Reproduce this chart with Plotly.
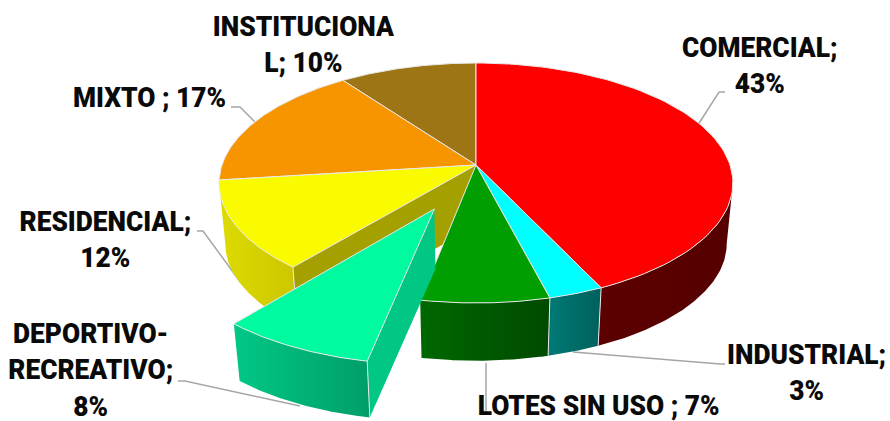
#!/usr/bin/env python3
# -*- coding: utf-8 -*-
import numpy as np
import plotly.graph_objects as go

# data
categorias = ["COMERCIAL", "INDUSTRIAL", "LOTES SIN USO", "DEPORTIVO-RECREATIVO",
              "RESIDENCIAL", "MIXTO", "INSTITUCIONAL"]
valores = [43, 3, 7, 8, 12, 17, 10]
color_tapa = ["#ff0000", "#00ffff", "#009e00", "#00fa9f", "#fbfb00", "#f79500", "#9e7515"]
color_lado = [("#5c0000", "#550000"), ("#007a76", "#00605c"), ("#006800", "#004a00"),
              ("#00c886", "#009e68"), ("#dedb00", "#cbc600"), ("#c07400", "#c07400"),
              ("#7a5a10", "#7a5a10")]
color_radial = {3: "#00c884", 4: "#a3a000"}

etiquetas = ["COMERCIAL;<br>43%", "INDUSTRIAL;<br>3%", "LOTES SIN USO ; 7%",
             "DEPORTIVO-<br>RECREATIVO;<br>8%", "RESIDENCIAL;<br>12%", "MIXTO ; 17%",
             "INSTITUCIONA<br>L; 10%"]
etq_x = [760, 806, 598, 91, 105, 149, 304]
etq_y = [65, 372, 405, 370, 239, 97, 44]

guias = [([725, 719, 696], [92, 92, 128]),
         ([725, 720, 573], [364, 364, 352]),
         ([486, 486], [363, 415]),
         ([178, 185, 300], [381, 381, 406]),
         ([197, 203, 241], [231, 231, 283]),
         ([231, 240, 255], [107, 107, 122])]

# perspective of the disc
CX, CY = 476, 165
A, B, K = 254, 117.3, 0.15
ESCALA_BASE, ALTO = 0.976, 61
EXPLOTA = {3: (-0.155, -0.355)}
# silhouette of the disc side, in percent of the turn
SIL_DER = np.degrees(np.arccos(-K)) / 3.6
SIL_IZQ = 100 - SIL_DER


def proyecta(X, Y, base=False):
    w = 1 + K * Y
    px, py = A * X / w, -B * Y / w
    if base:
        return CX + ESCALA_BASE * px, CY + ALTO + ESCALA_BASE * py
    return CX + px, CY + py


def arco(p0, p1, dx=0, dy=0, base=False):
    t = np.linspace(p0, p1, 90) / 100 * 2 * np.pi
    return proyecta(np.sin(t) + dx, np.cos(t) + dy, base)


def poligono(fig, x, y, color=None, grad=None, borde=1):
    kw = dict(fillcolor=color)
    if grad is not None:
        kw = dict(fillgradient=dict(type="horizontal", start=float(np.min(x)), stop=float(np.max(x)),
                                    colorscale=[[0, grad[0]], [1, grad[1]]]))
    fig.add_trace(go.Scatter(x=list(x) + [x[0]], y=list(y) + [y[0]], mode="lines", fill="toself",
                             line=dict(color="#e8e8e8", width=borde), hoverinfo="skip", showlegend=False, **kw))


def pared(fig, i):
    dx, dy = EXPLOTA.get(i, (0, 0))
    p0 = max(ini[i], SIL_DER) if i == 0 else ini[i]
    p1 = min(fin[i], SIL_IZQ)
    tx, ty = arco(p0, p1, dx, dy)
    bx, by = arco(p0, p1, dx, dy, base=True)
    poligono(fig, np.r_[tx, bx[::-1]], np.r_[ty, by[::-1]], grad=color_lado[i], borde=0)


def radial(fig, i, p):
    dx, dy = EXPLOTA.get(i, (0, 0))
    t = p / 100 * 2 * np.pi
    X = np.array([dx, np.sin(t) + dx])
    Y = np.array([dy, np.cos(t) + dy])
    tx, ty = proyecta(X, Y)
    bx, by = proyecta(X, Y, base=True)
    poligono(fig, np.r_[tx, bx[::-1]], np.r_[ty, by[::-1]], color=color_radial[i], borde=0)


def arista(fig, i, p):
    dx, dy = EXPLOTA.get(i, (0, 0))
    t = p / 100 * 2 * np.pi
    X, Y = np.array([np.sin(t) + dx]), np.array([np.cos(t) + dy])
    tx, ty = proyecta(X, Y)
    bx, by = proyecta(X, Y, base=True)
    fig.add_trace(go.Scatter(x=[tx[0], bx[0]], y=[ty[0], by[0]], mode="lines",
                             line=dict(color="#e8e8e8", width=1), hoverinfo="skip", showlegend=False))


def tapa(fig, i):
    dx, dy = EXPLOTA.get(i, (0, 0))
    ax, ay = arco(ini[i], fin[i], dx, dy)
    cx, cy = proyecta(np.array([dx]), np.array([dy]))
    poligono(fig, np.r_[cx, ax], np.r_[cy, ay], color=color_tapa[i])


fin = np.cumsum(valores)
ini = fin - np.array(valores)

fig = go.Figure()

for gx, gy in guias:
    fig.add_trace(go.Scatter(x=gx, y=gy, mode="lines", line=dict(color="#a6a6a6", width=1.5),
                             hoverinfo="skip", showlegend=False))

# back to front
pared(fig, 4)
radial(fig, 4, fin[3])
arista(fig, 4, fin[3])
for i in [0, 1, 2]:
    pared(fig, i)
arista(fig, 0, fin[0])
arista(fig, 1, fin[1])
for i in [6, 5, 4, 0, 1, 2]:
    tapa(fig, i)
pared(fig, 3)
radial(fig, 3, ini[3])
arista(fig, 3, ini[3])
tapa(fig, 3)

for txt, x, y in zip(etiquetas, etq_x, etq_y):
    fig.add_annotation(x=x, y=y, text=txt, showarrow=False, align="center", xanchor="center", yanchor="middle",
                       font=dict(family="Roboto", size=28, color="#0a0a0a", weight=900))

fig.update_layout(width=890, height=421, margin=dict(l=0, r=0, t=0, b=0),
                  paper_bgcolor="white", plot_bgcolor="white",
                  xaxis=dict(range=[0, 890], visible=False, fixedrange=True),
                  yaxis=dict(range=[421, 0], visible=False, fixedrange=True))

# labels in the reference are a condensed bold face: narrow the Roboto glyphs
angosta = """
document.body.style.margin = '0';
var gd = document.getElementById('{plot_id}');
function angostar() {
  gd.querySelectorAll('text.annotation-text').forEach(function (t) {
    var b = t.getBBox(), c = b.x + b.width / 2;
    t.setAttribute('transform', 'translate(' + c + ',0) scale(0.94,1) translate(' + (-c) + ',0)');
  });
}
setTimeout(angostar, 0);
"""
fig.write_html("out.html", post_script=angosta, config=dict(displayModeBar=False))
